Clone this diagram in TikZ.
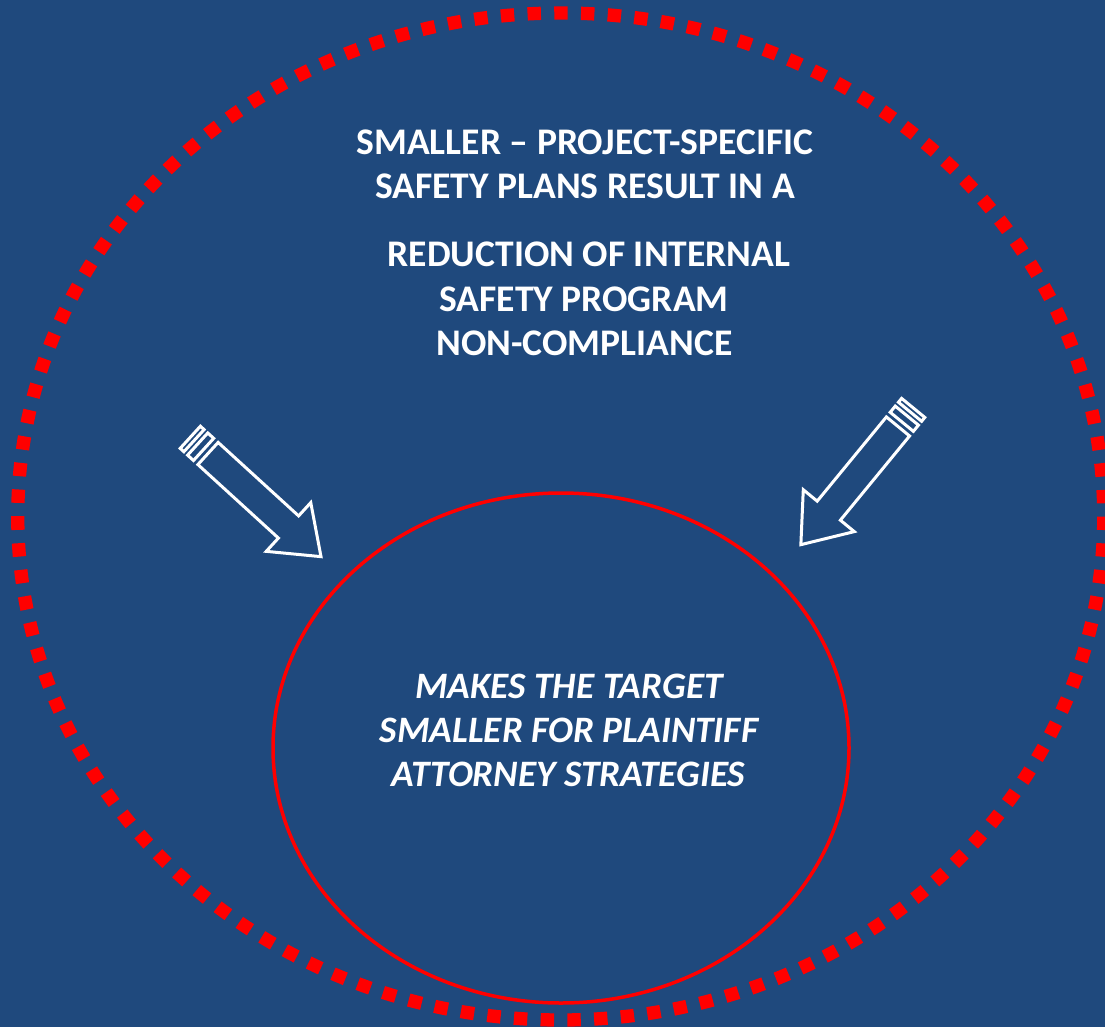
\documentclass[tikz,border=0pt]{standalone}
\usepackage{fontspec}
\setmainfont{Carlito}
\definecolor{bgblue}{HTML}{1F497D}
\definecolor{ringred}{HTML}{FF0000}
\tikzset{
  headline/.style={text=white, font=\fontsize{37.6}{44}\selectfont\bfseries, anchor=base, inner sep=0pt},
  targetline/.style={text=white, font=\fontsize{37.3}{44}\selectfont\bfseries\itshape, anchor=base, inner sep=0pt},
  stripedarrow/.style={draw=white, line width=3pt, line join=miter},
}
% striped block arrow pointing along +x, tail at the origin
\newcommand{\stripedarrowpath}{%
  \draw[stripedarrow] (0,-15) rectangle (5,15);
  \draw[stripedarrow] (10,-15) rectangle (18,15);
  \draw[stripedarrow] (24,-15) -- (133,-15) -- (133,-33) -- (177,0)
      -- (133,33) -- (133,15) -- (24,15) -- cycle;
}
\begin{document}
\begin{tikzpicture}[x=1pt, y=-1pt]
  \useasboundingbox (0,0) rectangle (1105,1027);
  \fill[bgblue] (0,0) rectangle (1105,1027);

  % dotted outer ring
  \draw[ringred, line width=13.3pt, dash pattern=on 13.4pt off 13.34pt]
    (17.75,516.5) arc[start angle=180, end angle=-180, x radius=543, y radius=503.5];

  % inner target ellipse
  \draw[ringred, line width=3.5pt] (561,748) ellipse[x radius=288, y radius=255];

  % heading text
  \node[headline] (h1) at (585,155) {SMALLER – PROJECT-SPECIFIC};
  \node[headline] (h2) at (585,199) {SAFETY PLANS RESULT IN A};
  \node[headline] (h3) at (589,266.5) {REDUCTION OF INTERNAL};
  \node[headline] (h4) at (584,311) {SAFETY PROGRAM};
  \node[headline] (h5) at (584.5,355) {NON-COMPLIANCE};

  % text inside the target
  \node[targetline] (t1) at (569,698.5) {MAKES THE TARGET};
  \node[targetline] (t2) at (569,742.5) {SMALLER FOR PLAINTIFF};
  \node[targetline] (t3) at (568.5,786.5) {ATTORNEY STRATEGIES};

  % arrows pointing at the target
  \begin{scope}[shift={(190.3,437.3)}, rotate=-42.4]
    \stripedarrowpath
  \end{scope}
  \begin{scope}[shift={(913.2,407.9)}, rotate=-129.4]
    \stripedarrowpath
  \end{scope}
\end{tikzpicture}
\end{document}
